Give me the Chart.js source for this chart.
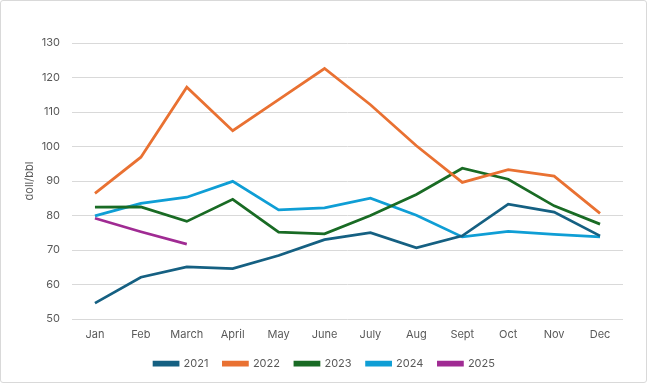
<!DOCTYPE html>
<html>
<head>
<meta charset="utf-8">
<script src="https://cdn.jsdelivr.net/npm/chart.js@4"></script>
<style>
  body { margin: 0; background: #fff; }
  #wrap { position: relative; width: 647px; height: 383px; }
  #frame { position: absolute; left: 0; top: 0; right: 0; bottom: 0; border: 1px solid #d9d9d9; border-radius: 3px; pointer-events: none; }
</style>
</head>
<body>
<div id="wrap">
  <canvas id="oilChart"></canvas>
  <div id="frame"></div>
</div>
<script>
// =========================
// DATA
// =========================
const months = ["Jan", "Feb", "March", "April", "May", "June", "July", "Aug", "Sept", "Oct", "Nov", "Dec"];
const y2021 = [54.6, 62.1, 65.1, 64.6, 68.4, 73.0, 75.0, 70.6, 74.1, 83.3, 81.0, 74.1];
const y2022 = [86.4, 96.9, 117.2, 104.6, 113.6, 122.6, 112.1, 100.2, 89.6, 93.3, 91.4, 80.6];
const y2023 = [82.4, 82.5, 78.3, 84.7, 75.2, 74.7, 80.0, 86.1, 93.7, 90.5, 82.8, 77.5];
const y2024 = [79.9, 83.5, 85.3, 89.9, 81.6, 82.2, 85.0, 80.1, 73.8, 75.4, 74.5, 73.8];
const y2025 = [79.2, 75.3, 71.7];

const FONT = { family: "Inter, 'Liberation Sans', sans-serif", size: 11 };
const TEXT = "#595959";

const mk = (label, data, color) => ({
    label,
    data,
    borderColor: color,
    backgroundColor: color,
    borderWidth: 2.75,
    pointRadius: 0,
    tension: 0,
    fill: false
});

new Chart(document.getElementById("oilChart"), {
    type: "line",
    data: {
        labels: months,
        datasets: [
            mk("2021", y2021, "#156082"),
            mk("2022", y2022, "#E97132"),
            mk("2023", y2023, "#196B24"),
            mk("2024", y2024, "#0F9ED5"),
            mk("2025", y2025, "#A02B93")
        ]
    },
    options: {
        responsive: true,
        maintainAspectRatio: false,
        animation: false,
        layout: { padding: { top: 43, right: 24, bottom: 4, left: 26 } },
        plugins: {
            tooltip: { enabled: false },
            legend: {
                position: "bottom",
                labels: {
                    font: FONT,
                    color: TEXT,
                    boxWidth: 24,
                    boxHeight: 3,
                    padding: 15
                }
            }
        },
        scales: {
            x: {
                offset: true,
                afterFit(s) { s.height = 24; },
                grid: { display: false, drawTicks: false },
                border: { display: false },
                ticks: { font: FONT, color: TEXT, padding: 9, maxRotation: 0 }
            },
            y: {
                min: 50,
                max: 130,
                afterFit(s) { s.width = 46; },
                ticks: { stepSize: 10, font: FONT, color: TEXT, padding: 12 },
                grid: { color: "#d9d9d9", lineWidth: 1, drawTicks: false },
                border: { display: false },
                title: {
                    display: true,
                    text: "doll/bbl",
                    font: FONT,
                    color: TEXT,
                    padding: { top: -3, bottom: 0 }
                }
            }
        }
    }
});
</script>
</body>
</html>
